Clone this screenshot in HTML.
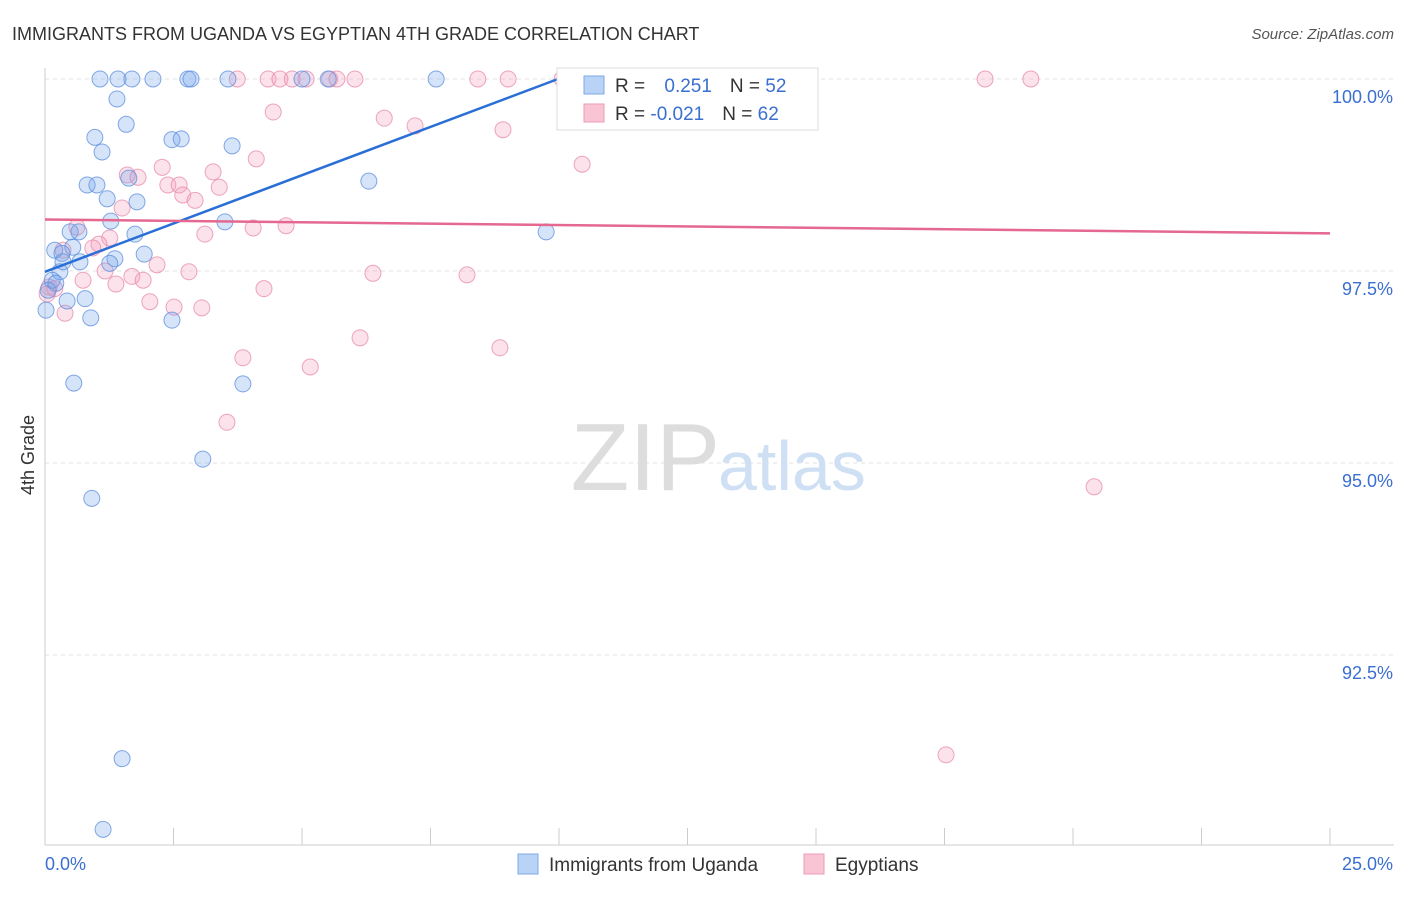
<!DOCTYPE html>
<html><head><meta charset="utf-8"><style>
body{margin:0;background:#fff;font-family:"Liberation Sans",sans-serif;}
svg text{font-family:"Liberation Sans",sans-serif;}
</style></head><body>
<svg width="1406" height="892" viewBox="0 0 1406 892">
<text x="12" y="40" font-size="18" fill="#333">IMMIGRANTS FROM UGANDA VS EGYPTIAN 4TH GRADE CORRELATION CHART</text>
<text x="1394" y="39" font-size="15" fill="#555" text-anchor="end" font-style="italic">Source: ZipAtlas.com</text>
<g id="grid"></g>
<g id="axes"></g>
<text x="720" y="490" font-size="96" fill="#ddd" text-anchor="end" font-family="Liberation Serif">ZIP</text>
<text x="718" y="490" font-size="70" fill="#cfe0f5">atlas</text>
<g id="pts"></g>
<g id="lines"></g>
<text transform="translate(34,455) rotate(-90)" font-size="18" fill="#333" text-anchor="middle">4th Grade</text>
<g>
<rect x="557" y="68" width="261" height="62" fill="#fff" stroke="#ddd"/>
<rect x="584" y="76" width="20" height="18" fill="#b9d3f6" stroke="#7fa8e6"/>
<rect x="584" y="104" width="20" height="18" fill="#f9c5d5" stroke="#ec9db6"/>
<text x="615" y="92" font-size="19" fill="#333">R = <tspan fill="#3a6fd0" dx="14">0.251</tspan><tspan dx="18" fill="#333">N = </tspan><tspan fill="#3a6fd0">52</tspan></text>
<text x="615" y="120" font-size="19" fill="#333">R = <tspan fill="#3a6fd0">-0.021</tspan><tspan dx="18" fill="#333">N = </tspan><tspan fill="#3a6fd0">62</tspan></text>
</g>
<g>
<rect x="518" y="854" width="20" height="20" fill="#b9d3f6" stroke="#7fa8e6"/>
<text x="549" y="871" font-size="19" fill="#333">Immigrants from Uganda</text>
<rect x="804" y="854" width="20" height="20" fill="#f9c5d5" stroke="#ec9db6"/>
<text x="835" y="871" font-size="19" fill="#333">Egyptians</text>
</g>
</svg>
<script>
const xTicks=[0,2.5,5,7.5,10,12.5,15,17.5,20,22.5,25];
const yTicks=[100,97.5,95,92.5];
const yTickLabels=["100.0%","97.5%","95.0%","92.5%"];
const blueX=[1.07,1.42,1.69,2.10,2.78,2.84,3.56,5.00,5.51,7.61,1.40,1.58,0.97,1.11,2.47,2.65,3.64,0.82,1.01,1.63,1.21,1.79,6.30,1.28,3.50,0.49,0.66,1.75,9.75,0.19,0.54,0.33,1.93,1.36,0.68,1.26,0.29,0.14,0.21,0.43,0.78,0.02,0.89,2.47,0.56,3.85,3.07,0.91,1.50,1.13,0.35,0.06];
const blueY=[100,100,100,100,100,100,100,100,100,100,99.74,99.41,99.24,99.05,99.21,99.22,99.13,98.62,98.62,98.71,98.44,98.40,98.67,98.15,98.14,98.01,98.01,97.98,98.01,97.77,97.81,97.73,97.72,97.66,97.62,97.60,97.49,97.38,97.34,97.11,97.14,96.99,96.89,96.86,96.04,96.03,95.05,94.54,91.15,90.23,97.62,97.25];
const pinkX=[3.74,4.34,4.57,4.81,5.08,5.54,5.68,6.03,8.42,9.01,10.06,13.52,18.29,19.18,4.44,6.60,7.20,8.91,4.11,2.28,3.27,10.45,1.60,1.81,2.39,2.61,2.68,2.92,3.39,1.50,0.62,3.11,4.05,4.69,1.26,1.05,0.93,0.35,2.18,1.17,2.80,1.69,6.38,8.21,0.74,1.38,1.91,4.26,0.08,0.19,0.04,2.04,2.51,3.05,0.39,3.85,5.16,6.13,8.85,3.54,20.41,17.53];
const pinkY=[100,100,100,100,100,100,100,100,100,100,100,100,100,100,99.57,99.49,99.39,99.34,98.96,98.85,98.79,98.89,98.75,98.72,98.62,98.62,98.49,98.42,98.59,98.32,98.07,97.98,98.06,98.09,97.93,97.85,97.80,97.77,97.58,97.50,97.49,97.43,97.47,97.45,97.38,97.33,97.38,97.27,97.29,97.27,97.20,97.10,97.03,97.02,96.95,96.37,96.25,96.63,96.50,95.53,94.69,91.20];
const blueTrend=[[0,97.49],[9.98,100]];
const pinkTrend=[[0,98.17],[25,97.99]];
const NS="http://www.w3.org/2000/svg";
const sx=v=>45+v*51.4, sy=v=>79+(100-v)*76.8;
function mk(t,a,p){const e=document.createElementNS(NS,t);for(const k in a)e.setAttribute(k,a[k]);p.appendChild(e);return e;}
const grid=document.getElementById('grid'),axes=document.getElementById('axes'),pts=document.getElementById('pts'),lines=document.getElementById('lines');
yTicks.forEach((v,i)=>{
 const l=mk('line',{x1:45,x2:1394,y1:sy(v),y2:sy(v),stroke:'#e2e2e2','stroke-dasharray':'4,4'},grid);
 
 
 const t=mk('text',{x:1393,y:sy(v)+24,'font-size':18,fill:'#3a6fd0','text-anchor':'end'},axes);t.textContent=yTickLabels[i];
 
 
});
mk('line',{x1:45,x2:45,y1:68,y2:845,stroke:'#ccc'},axes);
mk('line',{x1:45,x2:1394,y1:845,y2:845,stroke:'#ccc'},axes);
xTicks.forEach(v=>{const l=mk('line',{x1:sx(v),x2:sx(v),y1:828,y2:845,stroke:'#ccc'},axes);
 
 });
let t1=mk('text',{x:45,y:870,'font-size':18,fill:'#3a6fd0'},axes);t1.textContent='0.0%';


let t2=mk('text',{x:1393,y:870,'font-size':18,fill:'#3a6fd0','text-anchor':'end'},axes);t2.textContent='25.0%';


pinkX.forEach((x,i)=>{const c=mk('circle',{cx:sx(x),cy:sy(pinkY[i]),r:8,fill:'rgba(244,160,190,0.3)',stroke:'rgba(230,130,165,0.7)'},pts);
 
 });
blueX.forEach((x,i)=>{const c=mk('circle',{cx:sx(x),cy:sy(blueY[i]),r:8,fill:'rgba(120,165,235,0.3)',stroke:'rgba(90,140,220,0.75)'},pts);
 
 });
const bl=mk('line',{x1:sx(blueTrend[0][0]),y1:sy(blueTrend[0][1]),x2:sx(blueTrend[1][0]),y2:sy(blueTrend[1][1]),stroke:'#2a6fd6','stroke-width':2.5},lines);


const pl=mk('line',{x1:sx(pinkTrend[0][0]),y1:sy(pinkTrend[0][1]),x2:sx(pinkTrend[1][0]),y2:sy(pinkTrend[1][1]),stroke:'#e4688f','stroke-width':2.5},lines);


</script>
</body></html>
